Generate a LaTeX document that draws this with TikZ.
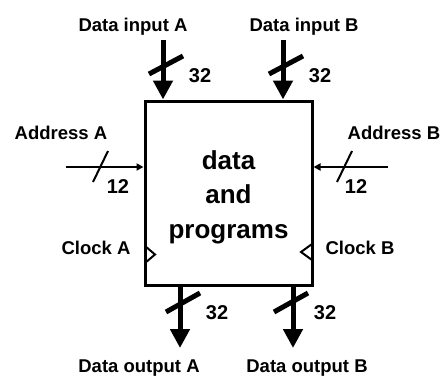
\documentclass[tikz,border=0pt]{standalone}
\usepackage{fontspec}
\setmainfont{Liberation Sans}
\usetikzlibrary{arrows.meta}

\tikzset{
  bus/.style={line width=5pt, -{Triangle[length=19pt,width=19pt]}},
  busmark/.style={line width=5pt},
  addr/.style={line width=2.5pt, -{Triangle[length=7pt,width=7pt]}},
  addrmark/.style={line width=2pt},
  clk/.style={line width=2pt, line join=miter},
}

\begin{document}
\begin{tikzpicture}[x=1pt, y=-1pt]
   \useasboundingbox (0,0) rectangle (443,378);

   % memory block
   \node[draw, line width=3pt, minimum width=167pt, minimum height=184pt] (mem) at (228.5,193) {};
   \node[align=center, font=\fontsize{26}{34.5}\selectfont\bfseries] (memtext)
        at (228.5,197) {data\\and\\programs};

   \begin{scope}[every node/.style={font=\fontsize{18.5}{21}\selectfont\bfseries}]
    \node (inA) at (133,27) {Data input A};
    \node (inB) at (304,27) {Data input B};
    \node (outA) at (139,368) {Data output A};
    \node (outB) at (307,368) {Data output B};
    \node (adrA) at (61,133) {Address A};
    \node (adrB) at (394,133) {Address B};
    \node (clkA) at (96,248) {Clock A};
    \node (clkB) at (360,248) {Clock B};
   \end{scope}

   \begin{scope}[every node/.style={font=\fontsize{20}{22}\selectfont\bfseries}]
    \node (wInA) at (200,76) {32};
    \node (wInB) at (320,76) {32};
    \node (wOutA) at (217,313) {32};
    \node (wOutB) at (325,313) {32};
    \node (wAdrA) at (118,187) {12};
    \node (wAdrB) at (356,187) {12};
   \end{scope}

   % free ends of the connectors
   \coordinate (inAtop) at (163,40);
   \coordinate (inBtop) at (283,40);
   \coordinate (outAend) at (180,348);
   \coordinate (outBend) at (293,348);
   \coordinate (adrAend) at (66,167);
   \coordinate (adrBend) at (388,167);

   \draw[bus] (inAtop) -- (inAtop |- mem.north);
   \draw[bus] (inBtop) -- (inBtop |- mem.north);
   \draw[bus] (outAend |- mem.south) -- (outAend);
   \draw[bus] (outBend |- mem.south) -- (outBend);
   \draw[addr] (adrAend) -- (adrAend -| mem.west);
   \draw[addr] (adrBend) -- (adrBend -| mem.east);

   % bus width marks
   \draw[busmark] (149,74) -- (183,56);
   \draw[busmark] (269,74) -- (303,56);
   \draw[busmark] (166,312) -- (200,293);
   \draw[busmark] (274,312) -- (308,293);
   \draw[addrmark] (93,182) -- (108,151);
   \draw[addrmark] (337,182) -- (352,151);

   % clock inputs
   \draw[clk] (145,246) -- (155,254.5) -- (145,263);
   \draw[clk] (312,244) -- (301,252) -- (312,260);
\end{tikzpicture}
\end{document}
